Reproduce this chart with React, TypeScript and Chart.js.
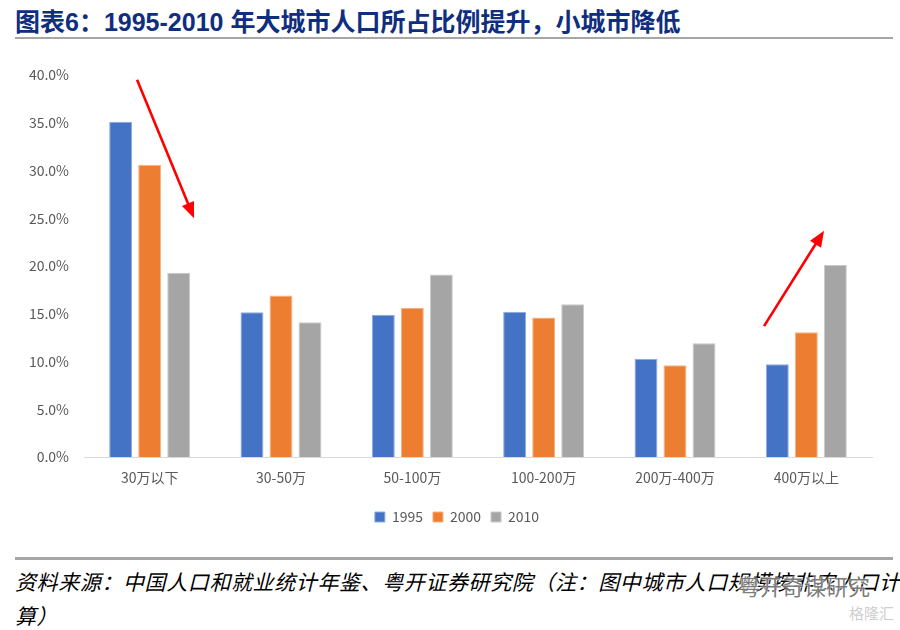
import React, { useEffect, useRef } from "react";
import { Chart, registerables } from "chart.js";

Chart.register(...registerables);

const categories = ["30万以下", "30-50万", "50-100万", "100-200万", "200万-400万", "400万以上"];
const seriesNames = ["1995", "2000", "2010"];
const values1995 = [35.1, 15.15, 14.9, 15.2, 10.3, 9.7];
const values2000 = [30.6, 16.9, 15.6, 14.6, 9.6, 13.05];
const values2010 = [19.3, 14.1, 19.1, 16.0, 11.9, 20.1];
const yMin = 0;
const yMax = 40;
const yStep = 5;
// arrows in data units: [category index, value %]
const arrowFrom = [[-0.096, 39.5], [4.678, 13.7]];
const arrowTo = [[0.338, 25.0], [5.135, 23.7]];

const titleText = "图表6：1995-2010 年大城市人口所占比例提升，小城市降低";
const sourceLine1 = "资料来源：中国人口和就业统计年鉴、粤开证券研究院（注：图中城市人口规模按非农人口计";
const sourceLine2 = "算）";

const arrowPlugin = {
  id: "arrows",
  afterLayout(chart: any) {
    // shift the legend's centring to match the reference
    if (chart.legend) {
      chart.legend.left += 42;
    }
  },
  afterDatasetsDraw(chart: any) {
    const { ctx, scales } = chart;
    const xs = scales.x;
    const ys = scales.y;
    ctx.save();
    for (let i = 0; i < arrowFrom.length; i++) {
      const x1 = xs.getPixelForValue(arrowFrom[i][0]);
      const y1 = ys.getPixelForValue(arrowFrom[i][1]);
      const x2 = xs.getPixelForValue(arrowTo[i][0]);
      const y2 = ys.getPixelForValue(arrowTo[i][1]);
      const ang = Math.atan2(y2 - y1, x2 - x1);
      const headLen = 16;
      const headHalf = 6.5;
      const bx = x2 - headLen * Math.cos(ang);
      const by = y2 - headLen * Math.sin(ang);
      ctx.strokeStyle = "#FF0000";
      ctx.fillStyle = "#FF0000";
      ctx.lineWidth = 2.6;
      ctx.beginPath();
      ctx.moveTo(x1, y1);
      ctx.lineTo(bx + 2 * Math.cos(ang), by + 2 * Math.sin(ang));
      ctx.stroke();
      ctx.beginPath();
      ctx.moveTo(x2, y2);
      ctx.lineTo(bx + headHalf * Math.sin(ang), by - headHalf * Math.cos(ang));
      ctx.lineTo(bx - headHalf * Math.sin(ang), by + headHalf * Math.cos(ang));
      ctx.closePath();
      ctx.fill();
    }
    ctx.restore();
  },
};

export default function App() {
  const canvasRef = useRef<HTMLCanvasElement | null>(null);

  useEffect(() => {
    document.body.style.margin = "0";
    const canvas = canvasRef.current;
    if (!canvas) return;
    const font = "'Noto Sans CJK SC', 'Noto Sans', sans-serif";
    const chart = new Chart(canvas, {
      type: "bar",
      data: {
        labels: categories,
        datasets: [
          {
            label: seriesNames[0],
            data: values1995,
            backgroundColor: "#4472C4",
            borderColor: "#8FAADC",
            borderWidth: 1,
          },
          {
            label: seriesNames[1],
            data: values2000,
            backgroundColor: "#ED7D31",
            borderColor: "#F4B183",
            borderWidth: 1,
          },
          {
            label: seriesNames[2],
            data: values2010,
            backgroundColor: "#A5A5A5",
            borderColor: "#C9C9C9",
            borderWidth: 1,
          },
        ],
      },
      options: {
        animation: false,
        responsive: false,
        maintainAspectRatio: false,
        datasets: {
          bar: {
            barPercentage: 0.79,
            categoryPercentage: 0.663,
          },
        },
        layout: {
          padding: { left: 0, right: 28, top: 35, bottom: 6 },
        },
        plugins: {
          legend: {
            position: "bottom",
            labels: {
              boxWidth: 10,
              boxHeight: 10,
              padding: 10,
              color: "#595959",
              font: { family: font, size: 14 },
            },
          },
          tooltip: { enabled: false },
        },
        scales: {
          x: {
            grid: { display: false, drawTicks: false },
            border: { display: true, color: "#D9D9D9", width: 1 },
            ticks: {
              color: "#595959",
              font: { family: font, size: 14 },
              padding: 12,
              maxRotation: 0,
              autoSkip: false,
            },
            afterFit: (s: any) => {
              s.height = 43;
            },
          },
          y: {
            min: yMin,
            max: yMax,
            grid: { display: false, drawTicks: false },
            border: { display: false },
            ticks: {
              stepSize: yStep,
              color: "#595959",
              font: { family: font, size: 14 },
              padding: 15,
              callback: (v: any) => Number(v).toFixed(1) + "%",
            },
            afterFit: (s: any) => {
              s.width = 84;
            },
          },
        },
      },
      plugins: [arrowPlugin],
    });
    return () => chart.destroy();
  }, []);

  return (
    <div style={{ position: "relative", width: 900, height: 630, background: "#fff", overflow: "hidden" }}>
      <div
        style={{
          position: "absolute",
          left: 15,
          top: 10,
          fontFamily: "'Liberation Sans', 'Noto Sans CJK SC', sans-serif",
          fontWeight: "bold",
          fontSize: 25,
          lineHeight: "25px",
          color: "#0F2E7E",
          whiteSpace: "nowrap",
        }}
      >
        {titleText}
      </div>
      <div style={{ position: "absolute", left: 15, top: 37, width: 878, height: 2, background: "#A6A6A6" }} />
      <canvas ref={canvasRef} width={900} height={500} style={{ position: "absolute", left: 0, top: 40 }} />
      <div style={{ position: "absolute", left: 15, top: 557, width: 878, height: 3, background: "#A6A6A6" }} />
      <div
        style={{
          position: "absolute",
          left: 15,
          top: 564,
          fontFamily: "'Noto Sans CJK SC', sans-serif",
          fontStyle: "italic",
          fontSize: 21,
          letterSpacing: "0.6px",
          lineHeight: "34px",
          color: "#000",
          whiteSpace: "nowrap",
        }}
      >
        {sourceLine1}
        <br />
        {sourceLine2}
      </div>
      <div
        style={{
          position: "absolute",
          left: 738,
          top: 573,
          fontFamily: "'Noto Sans CJK SC', sans-serif",
          fontSize: 22,
          lineHeight: "24px",
          color: "rgba(100,100,100,0.85)",
          textShadow: "0 0 2px #fff, 0 0 2px #fff",
          whiteSpace: "nowrap",
        }}
      >
        粤开奇谋研究
      </div>
      <div
        style={{
          position: "absolute",
          left: 849,
          top: 603,
          fontFamily: "'Noto Sans CJK SC', sans-serif",
          fontSize: 15,
          lineHeight: "20px",
          color: "rgba(200,200,200,0.9)",
          whiteSpace: "nowrap",
        }}
      >
        格隆汇
      </div>
    </div>
  );
}
